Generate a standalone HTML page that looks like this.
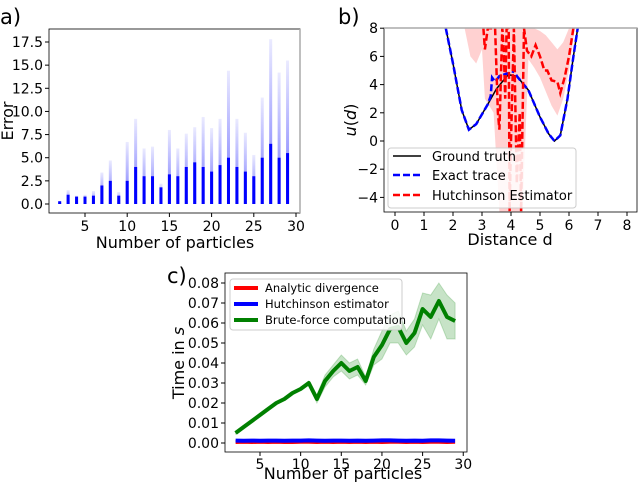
<!DOCTYPE html>
<html><head><meta charset="utf-8"><style>
body{margin:0;background:#fff;width:640px;height:482px;overflow:hidden}
svg{font-family:"DejaVu Sans","Liberation Sans",sans-serif}
</style></head><body>
<svg id="s" width="640" height="482" xmlns="http://www.w3.org/2000/svg">
<defs>
<linearGradient id="fade" x1="0" y1="1" x2="0" y2="0"><stop offset="0" stop-color="#0000ff" stop-opacity="0.55"/><stop offset="1" stop-color="#0000ff" stop-opacity="0.08"/></linearGradient>
<clipPath id="clipB"><rect x="384" y="28" width="253" height="184"/></clipPath>
</defs>
<text x="0" y="24" font-size="21">a)</text>
<text x="338" y="24" font-size="21">b)</text>
<text x="167" y="283" font-size="21">c)</text>
<g id="ga"></g>
<g id="gb"></g>
<g id="gc"></g>
</svg>
<script>
// Panel a data
const aN=[2,3,4,5,6,7,8,9,10,11,12,13,14,15,16,17,18,19,20,21,22,23,24,25,26,27,28,29];
const aDense=[0.3,1.0,0.8,0.8,0.9,2.0,2.5,0.9,2.5,4.0,3.0,3.0,1.8,3.2,3.0,4.0,4.5,4.0,3.5,4.2,5.0,4.0,3.5,3.0,5.0,6.5,5.0,5.5];
const aMax=[0.3,1.5,0.9,1.0,1.4,3.4,4.7,1.3,6.7,9.2,6.0,6.2,2.2,8.0,6.0,7.6,8.3,9.4,8.2,9.2,14.4,9.2,7.7,5.3,11.5,17.8,14.2,15.5];
const aXTicks=[5,10,15,20,25,30];
const aYTicks=[0,2.5,5,7.5,10,12.5,15,17.5];
// Panel b data
const gtD=[1.75,2.0,2.3,2.55,2.8,3.2,3.5,3.9,4.2,4.6,5.0,5.3,5.5,5.7,5.95,6.15,6.3];
const gtU=[8,5.5,2.2,0.8,1.2,2.6,3.7,4.7,4.6,3.6,1.7,0.5,0.0,0.4,3.0,6.0,8];
const exD=[1.75,2.0,2.3,2.55,2.8,3.2,3.3,3.35,3.45,3.6,3.9,4.05,4.1,4.2,4.6,5.0,5.3,5.5,5.7,5.95,6.15,6.3];
const exU=[8,5.5,2.2,0.8,1.2,2.6,3.2,4.5,4.2,4.6,4.8,4.8,5.1,4.6,3.6,1.7,0.5,0.0,0.4,3.0,6.0,8];
const huD=[3.05,3.1,3.2,3.45,3.55,3.6,3.7,3.75,3.8,3.85,3.92,3.95,4.0,4.1,4.2,4.3,4.35,4.45,4.55,4.7,4.85,5.0,5.15,5.25,5.4,5.6,5.7,5.85,6.0,6.15];
const huU=[8,6.5,8,8,2,0.8,8,6.5,3,8,8,-5,0,8,-3,2,-5,8,6.4,6.0,6.8,6.0,5.0,5.0,4.3,4.2,3.4,4.5,6,8];
const bandD=[2.4,2.6,2.8,3.0,3.1,3.4,3.6,3.8,4.0,4.2,4.4,4.6,4.8,5.0,5.2,5.4,5.6,5.8,6.0,6.2];
const bandLo=[8,6.0,5.5,6.5,3,2,-5,-5,-5,-5,-5,5.8,5.2,4.5,3.5,2.5,1.8,3.0,5.0,8];
const bandHi=[8,8,8,8,8,8,8,8,8,8,8,8,8,7.8,7.5,7.0,6.5,7.0,8,8];
const bXTicks=[0,1,2,3,4,5,6,7,8];
const bYTicks=[-4,-2,0,2,4,6,8];
// Panel c data
const cN=[2,3,4,5,6,7,8,9,10,11,12,13,14,15,16,17,18,19,20,21,22,23,24,25,26,27,28,29];
const cBrute=[.005,.008,.011,.014,.017,.020,.022,.025,.027,.030,.022,.031,.036,.040,.036,.038,.031,.043,.049,.057,.058,.050,.055,.067,.063,.071,.063,.061];
const cBruteErr=[.0005,.0005,.0005,.0005,.0005,.0005,.0005,.0005,.0005,.001,.002,.003,.003,.004,.004,.004,.002,.004,.007,.007,.008,.006,.007,.008,.011,.009,.011,.009];
const cAnalytic=[.0005,.0006,.0005,.0006,.0005,.0006,.0005,.0005,.0006,.0006,.0005,.0006,.0005,.0006,.0005,.0006,.0005,.0006,.0005,.0006,.0006,.0005,.0006,.0005,.0006,.0006,.0005,.0006];
const cHutch=[.0012,.0011,.0012,.0011,.0012,.0012,.0011,.0012,.0012,.0013,.0012,.0011,.0012,.0012,.0011,.0012,.0011,.0012,.0013,.0013,.0012,.0011,.0012,.0011,.0013,.0013,.0012,.0011];
const cXTicks=[5,10,15,20,25,30];
const cYTicks=[0,.01,.02,.03,.04,.05,.06,.07,.08];

const NS="http://www.w3.org/2000/svg";
function mk(p,tag,at,txt){const e=document.createElementNS(NS,tag);for(const k in at)e.setAttribute(k,at[k]);if(txt!==undefined)e.textContent=txt;p.appendChild(e);return e;}
function path(xs,ys,fx,fy){return xs.map((v,i)=>(i?'L':'M')+fx(v).toFixed(1)+','+fy(ys[i]).toFixed(1)).join('');}

// ---- Panel a
const ga=document.getElementById('ga');
const ax=v=>85+(v-5)*8.44, ay=v=>204-v*9.257;
aN.forEach((n,i)=>{
 const x=ax(n);
 const f=mk(ga,'rect',{x:x-1.5,y:ay(aMax[i]),width:3,height:ay(0)-ay(aMax[i]),fill:'url(#fade)'});
 
 
 const d=mk(ga,'rect',{x:x-1.5,y:ay(aDense[i]),width:3,height:ay(0)-ay(aDense[i]),fill:'#0000ff'});
 
 
});
mk(ga,'rect',{x:49,y:29,width:251,height:184,fill:'none',stroke:'#000','stroke-width':0.8});
mk(ga,'line',{x1:300,y1:29,x2:300,y2:213,stroke:'#aaa','stroke-width':1.5});
aXTicks.forEach(t=>{mk(ga,'line',{x1:ax(t),y1:213,x2:ax(t),y2:217,stroke:'#000'});const e=mk(ga,'text',{x:ax(t),y:231,'font-size':14,'text-anchor':'middle'},t);});
aYTicks.forEach(t=>{mk(ga,'line',{x1:45,y1:ay(t),x2:49,y2:ay(t),stroke:'#000'});const e=mk(ga,'text',{x:43,y:ay(t)+5,'font-size':14,'text-anchor':'end'},t.toFixed(1));});
let t=mk(ga,'text',{x:175,y:248,'font-size':16,'text-anchor':'middle'},'Number of particles');
t=mk(ga,'text',{x:0,y:0,'font-size':16,'text-anchor':'middle',transform:'translate(13,121) rotate(-90)'},'Error');

// ---- Panel b
const gb=document.getElementById('gb');
const bx=v=>395+v*29, by=v=>141-v*14.1;
const cg=mk(gb,'g',{'clip-path':'url(#clipB)'});
let bp='M'+bandD.map((d,i)=>bx(d)+','+by(bandHi[i])).join('L')+'L'+bandD.slice().reverse().map((d,i)=>bx(d)+','+by(bandLo[bandLo.length-1-i])).join('L')+'Z';
let e=mk(cg,'path',{d:bp,fill:'#ff0000','fill-opacity':0.18});
e=mk(cg,'path',{d:path(gtD,gtU,bx,by),fill:'none',stroke:'#000','stroke-width':1.5});
e=mk(cg,'path',{d:path(exD,exU,bx,by),fill:'none',stroke:'#0000ff','stroke-width':2.5,'stroke-dasharray':'7,3'});
e=mk(cg,'path',{d:path(huD,huU,bx,by),fill:'none',stroke:'#ff0000','stroke-width':2.5,'stroke-dasharray':'7,3'});
mk(gb,'rect',{x:384,y:28,width:253,height:184,fill:'none',stroke:'#000','stroke-width':0.8});
mk(gb,'line',{x1:384,y1:28,x2:637,y2:28,stroke:'#aaa','stroke-width':1.5});
bXTicks.forEach(v=>{mk(gb,'line',{x1:bx(v),y1:212,x2:bx(v),y2:216,stroke:'#000'});const e=mk(gb,'text',{x:bx(v),y:230,'font-size':14,'text-anchor':'middle'},v);});
bYTicks.forEach(v=>{mk(gb,'line',{x1:380,y1:by(v),x2:384,y2:by(v),stroke:'#000'});const e=mk(gb,'text',{x:378,y:by(v)+5,'font-size':14,'text-anchor':'end'},v<0?'\u2212'+(-v):v);});
e=mk(gb,'text',{x:510,y:245,'font-size':16,'text-anchor':'middle'},'Distance d');
e=mk(gb,'text',{x:0,y:0,'font-size':16,'text-anchor':'middle',transform:'translate(356,120) rotate(-90)'});e.innerHTML='<tspan font-style="italic">u</tspan>(<tspan font-style="italic">d</tspan>)';
const lb=mk(gb,'g',{});
mk(lb,'rect',{x:388,y:148,width:188,height:60,rx:3,fill:'#fff','fill-opacity':0.85,stroke:'#ccc'});
[['Ground truth','#000','none',156],['Exact trace','#0000ff','7,3',175],['Hutchinson Estimator','#ff0000','7,3',195]].forEach(l=>{
 mk(lb,'line',{x1:393,y1:l[3],x2:421,y2:l[3],stroke:l[1],'stroke-width':l[1]=='#000'?1.5:2.5,'stroke-dasharray':l[2]});
 mk(lb,'text',{x:432,y:l[3]+5,'font-size':13},l[0]);});

// ---- Panel c
const gc=document.getElementById('gc');
const cx=v=>260+(v-5)*8.13, cy=v=>443-v*2000;
const lo=cBrute.map((v,i)=>v-cBruteErr[i]), hi=cBrute.map((v,i)=>v+cBruteErr[i]);
let cp='M'+cN.map((n,i)=>cx(n)+','+cy(hi[i])).join('L')+'L'+cN.slice().reverse().map((n,i)=>cx(n)+','+cy(lo[cN.length-1-i])).join('L')+'Z';
e=mk(gc,'path',{d:cp,fill:'#008000','fill-opacity':0.22,stroke:'#008000','stroke-opacity':0.2});
e=mk(gc,'path',{d:path(cN,cAnalytic,cx,cy),fill:'none',stroke:'#ff0000','stroke-width':4});
e=mk(gc,'path',{d:path(cN,cHutch,cx,cy),fill:'none',stroke:'#0000ff','stroke-width':4});
e=mk(gc,'path',{d:path(cN,cBrute,cx,cy),fill:'none',stroke:'#008000','stroke-width':4,'stroke-linejoin':'round'});
mk(gc,'rect',{x:225,y:273,width:242,height:179,fill:'none',stroke:'#000','stroke-width':0.8});
cXTicks.forEach(v=>{mk(gc,'line',{x1:cx(v),y1:452,x2:cx(v),y2:456,stroke:'#000'});const e=mk(gc,'text',{x:cx(v),y:469,'font-size':14,'text-anchor':'middle'},v);});
cYTicks.forEach(v=>{mk(gc,'line',{x1:221,y1:cy(v),x2:225,y2:cy(v),stroke:'#000'});const e=mk(gc,'text',{x:219,y:cy(v)+5,'font-size':14,'text-anchor':'end'},v.toFixed(2));});
e=mk(gc,'text',{x:343,y:479,'font-size':16,'text-anchor':'middle'},'Number of particles');
e=mk(gc,'text',{x:0,y:0,'font-size':16,'text-anchor':'middle',transform:'translate(184,363) rotate(-90)'});e.innerHTML='Time in <tspan font-style="italic">s</tspan>';
const lc=mk(gc,'g',{});
mk(lc,'rect',{x:230,y:279,width:172,height:51,rx:3,fill:'#fff','fill-opacity':0.85,stroke:'#ccc'});
[['Analytic divergence','#ff0000',288],['Hutchinson estimator','#0000ff',304],['Brute-force computation','#008000',320]].forEach(l=>{
 mk(lc,'line',{x1:234,y1:l[2],x2:258,y2:l[2],stroke:l[1],'stroke-width':4});
 mk(lc,'text',{x:265,y:l[2]+4,'font-size':11.5},l[0]);});
</script>
</body></html>
